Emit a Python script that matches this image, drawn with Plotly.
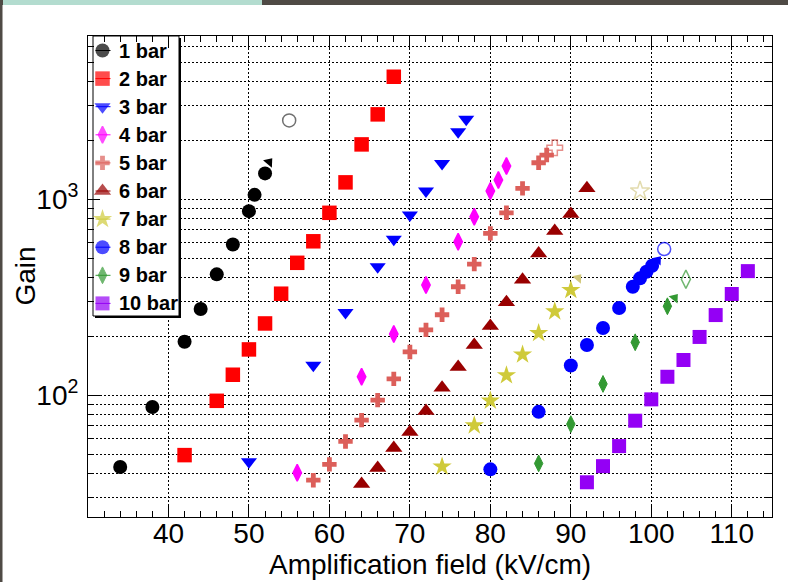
import plotly.graph_objects as go

# ---------------- data ----------------
names = ["1 bar", "2 bar", "3 bar", "4 bar", "5 bar", "6 bar", "7 bar", "8 bar", "9 bar", "10 bar"]

x1 = [34, 38, 42, 44, 46, 48, 50, 50.7, 52]
g1 = [43, 87, 187, 275, 413, 587, 868, 1051, 1352]

x2 = [42, 46, 48, 50, 52, 54, 56, 58, 60, 62, 64, 66, 68]
g2 = [49.4, 93.5, 127, 171, 232, 329, 473, 609, 851, 1217, 1901, 2705, 4208]

x3 = [50, 58, 62, 66, 68, 70, 72, 74, 76, 77]
g3 = [45.7, 142, 264, 452, 623, 829, 1099, 1521, 2205, 2551]

x4 = [56, 64, 68, 72, 76, 78, 80, 81, 82]
g4 = [40.2, 124, 205, 364, 606, 812, 1099, 1250, 1473]

x5 = [58, 60, 62, 64, 66, 68, 70, 72, 74, 76, 78, 80, 82, 84, 86, 87]
g5 = [36.8, 44.3, 58, 74.5, 94.3, 121, 166, 215, 257, 357, 466, 668, 851, 1134, 1532, 1677]

x6 = [64, 66, 68, 70, 72, 74, 76, 78, 80, 82, 84, 86, 88, 90, 92]
g6 = [35.2, 42.4, 53.7, 64.8, 82.9, 109, 139, 180, 225, 298, 388, 528, 687, 838, 1134]

x7 = [74, 78, 80, 82, 84, 86, 88, 90]
g7 = [43.2, 70, 93.6, 126, 161, 207, 267, 343]

x8 = [80, 86, 90, 92, 94, 96, 97.7, 98.6, 99.4, 100.1]
g8 = [41.8, 82.1, 141.5, 180, 220, 278, 357, 394, 426, 457]

x9 = [86, 90, 94, 98, 102]
g9 = [44.8, 71.1, 114, 186, 284]

x10 = [92, 94, 96, 98, 100, 102, 104, 106, 108, 110, 112]
g10 = [35.9, 43.4, 54.9, 74, 95.1, 124, 151, 198, 256, 328, 429]

# small "tail" points at the end of some series
tail_x = [52.5, 90.9, 100.8, 102.9]
tail_g = [1545, 395, 489, 313]

# open (hollow) points
open_x = [55, 88, 98.6, 101.6, 104.3]
open_g = [2520, 1827, 1099, 556, 390]

x_ticks = [40, 50, 60, 70, 80, 90, 100, 110]
y_ticks = [100, 1000]
y_ticktext = ["10<sup>2</sup>", "10<sup>3</sup>"]

# ---------------- style ----------------
xs = [x1, x2, x3, x4, x5, x6, x7, x8, x9, x10]
gs = [g1, g2, g3, g4, g5, g6, g7, g8, g9, g10]
colors = ["#000000", "#ff0000", "#0000ff", "#ff00ff", "#dc5f5a",
          "#990000", "#cfca3a", "#0000ff", "#339933", "#9400f5"]
symbols = ["circle", "square", "triangle-down", "diamond-tall", "cross",
           "triangle-up", "star", "circle", "diamond-tall", "square"]
sizes = [14, 14.5, 14, 12, 12, 15, 14.5, 14, 12, 14]
lws = [0, 0, 0, 1.5, 0, 0, 0, 0, 1, 0]
tail_colors = ["#000000", "#d2c87a", "#0000ff", "#339933"]
open_colors = ["#333333", "#dc5f5a", "#d6cc8c", "#0000ff", "#339933"]
open_symbols = ["circle-open", "cross-open", "star-open", "circle-open", "diamond-tall-open"]
open_sizes = [13, 13, 14.5, 13, 13]

FONT = "Liberation Sans, Arial, Helvetica, sans-serif"
W, H = 788, 582
L, R, T, B = 88, 772, 36, 517
XR = [30, 115]
YR = [1.378, 3.832]


def PX(px):
    return (px - L) / (R - L)


def PY(py):
    return (B - py) / (B - T)


def XD(px):
    return XR[0] + (px - L) * (XR[1] - XR[0]) / (R - L)


def YD(py):
    return 10 ** (YR[0] + (B - py) * (YR[1] - YR[0]) / (B - T))


fig = go.Figure()

for i in range(10):
    fig.add_trace(go.Scatter(
        x=xs[i], y=gs[i], mode="markers", name=names[i], showlegend=False,
        marker=dict(symbol=symbols[i], size=sizes[i], color=colors[i],
                    line=dict(width=lws[i], color=colors[i]))))

fig.add_trace(go.Scatter(
    x=tail_x, y=tail_g, mode="markers", showlegend=False,
    marker=dict(symbol="triangle-up", angle=40, size=10, color=tail_colors, line=dict(width=0))))

fig.add_trace(go.Scatter(
    x=open_x, y=open_g, mode="markers", showlegend=False,
    marker=dict(symbol=open_symbols, size=open_sizes, color=open_colors,
                line=dict(width=1.5, color=open_colors))))

# ---------------- manual legend ----------------
row_y = [50.5 + 28.1 * i for i in range(10)]
fig.add_trace(go.Scatter(
    x=[102.5] * 10, y=row_y, mode="markers", showlegend=False, xaxis="x2", yaxis="y2",
    marker=dict(symbol=symbols, size=sizes, color=colors,
                line=dict(width=lws, color=colors))))

shapes = [
    dict(type="rect", xref="x", yref="y", x0=XD(95), x1=XD(181), y0=YD(38), y1=YD(318),
         fillcolor="black", line=dict(width=0), layer="between"),
    dict(type="rect", xref="x", yref="y", x0=XD(93), x1=XD(179), y0=YD(36), y1=YD(316),
         fillcolor="white", line=dict(width=1, color="black"), layer="between"),
]
for i in range(10):
    shapes.append(dict(type="line", xref="x", yref="y", x0=XD(95.5), x1=XD(110.5),
                       y0=YD(row_y[i]), y1=YD(row_y[i]), line=dict(width=1, color=colors[i]),
                       layer="between"))

# window artifacts around the screenshot
shapes.append(dict(type="rect", xref="paper", yref="paper", x0=PX(0), x1=PX(W), y0=PY(0), y1=PY(5),
                   fillcolor="#4f4a45", line=dict(width=0), layer="above"))
shapes.append(dict(type="rect", xref="paper", yref="paper", x0=PX(3), x1=PX(262), y0=PY(0), y1=PY(5),
                   fillcolor="#b3dccf", line=dict(width=0), layer="above"))
shapes.append(dict(type="rect", xref="paper", yref="paper", x0=PX(0), x1=PX(2.5), y0=PY(0), y1=PY(H),
                   fillcolor="#4f4a45", line=dict(width=0), layer="above"))

annotations = []
for i in range(10):
    annotations.append(dict(xref="x2", yref="y2", x=117, y=row_y[i], text="<b>%s</b>" % names[i],
                            showarrow=False, xanchor="left", yanchor="middle",
                            font=dict(family=FONT, size=20, color="black")))
annotations.append(dict(xref="paper", yref="paper", x=PX(25), y=0.5, text="Gain", textangle=-90,
                        showarrow=False, xanchor="center", yanchor="middle",
                        font=dict(family=FONT, size=28, color="black")))

minor_y = [m * 10 ** e for e in (1, 2, 3) for m in range(2, 10) if 24 < m * 10 ** e < 6800]

fig.update_layout(
    width=W, height=H,
    margin=dict(l=L, r=W - R, t=T, b=H - B, pad=0),
    paper_bgcolor="white", plot_bgcolor="white",
    font=dict(family=FONT, color="black"),
    shapes=shapes, annotations=annotations,
    xaxis=dict(
        range=XR, tickmode="array", tickvals=x_ticks,
        ticks="inside", ticklen=12, tickwidth=1, tickcolor="black",
        showline=True, linecolor="black", linewidth=1, mirror="ticks",
        showgrid=True, gridcolor="black", gridwidth=1, griddash="2px,2px",
        zeroline=False, tickfont=dict(size=28, family=FONT),
        ticklabelstandoff=-9,
        minor=dict(dtick=2, tick0=0, ticks="inside", ticklen=6, tickcolor="black", showgrid=False),
        title=dict(text="Amplification field (kV/cm)", font=dict(size=28, family=FONT), standoff=0),
    ),
    yaxis=dict(
        type="log", range=YR, tickmode="array", tickvals=y_ticks, ticktext=y_ticktext,
        ticks="inside", ticklen=12, tickwidth=1, tickcolor="black",
        showline=True, linecolor="black", linewidth=1, mirror="ticks",
        showgrid=True, gridcolor="black", gridwidth=1, griddash="2px,2px",
        zeroline=False, tickfont=dict(size=28, family=FONT),
        ticklabelstandoff=3,
        minor=dict(tickmode="array", tickvals=minor_y, ticks="inside", ticklen=6, tickcolor="black",
                   showgrid=True, gridcolor="black", gridwidth=1, griddash="2px,2px"),
    ),
    xaxis2=dict(overlaying="x", anchor="y2", range=[L, R], visible=False, fixedrange=True),
    yaxis2=dict(overlaying="y", anchor="x2", range=[B, T], visible=False, fixedrange=True),
)

fig.write_html("out.html")
